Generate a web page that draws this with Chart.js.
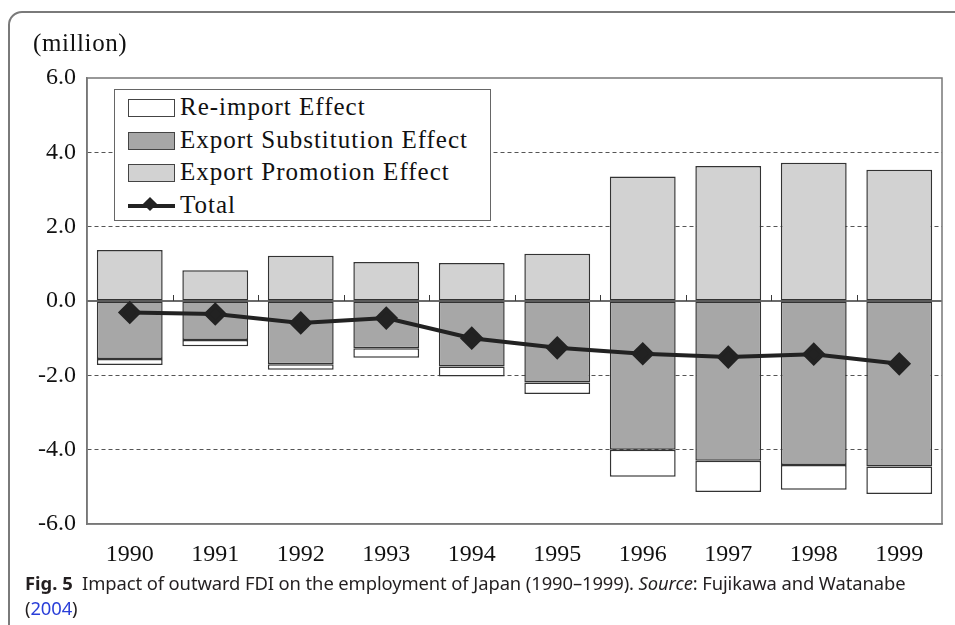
<!DOCTYPE html>
<html>
<head>
<meta charset="utf-8">
<script src="https://cdn.jsdelivr.net/npm/chart.js@4.4.1/dist/chart.umd.min.js"></script>
<style>
  html, body { margin:0; padding:0; background:#fff; }
  #wrap { position:relative; width:955px; height:625px; overflow:hidden; }
  #frame { position:absolute; left:8px; top:11px; width:1000px; height:700px;
           border:2px solid #7a7a7a; border-radius:14px; box-sizing:border-box; }
  #chart { position:absolute; left:0; top:0; }
  #unit { position:absolute; left:33px; top:29px; font:25px "Liberation Serif", serif; color:#111; letter-spacing:0.6px; }
  #legend { position:absolute; left:114px; top:89px; width:377px; height:132px;
            border:1.5px solid #666; background:#fff; box-sizing:border-box; }
  .row { position:absolute; left:0; height:30px; width:100%; }
  .sw { position:absolute; left:13px; top:6px; width:47px; height:18px; box-sizing:border-box; border:1.5px solid #444; }
  .ln { position:absolute; left:13px; top:13px; width:47px; height:4px; background:#222; }
  .dm { position:absolute; left:30px; top:8px; width:10px; height:10px; background:#222; transform:rotate(45deg); }
  .lt { position:absolute; left:65px; top:0; line-height:30px; font:25px "Liberation Serif", serif; color:#111;
        white-space:nowrap; letter-spacing:1px; }
  .cap { position:absolute; left:25px; font:18.4px "Noto Sans", sans-serif; color:#231f20; white-space:nowrap; letter-spacing:-0.1px; }
  .cap b { font-weight:700; letter-spacing:0; }
  .cap a { color:#2a3fd8; text-decoration:none; }
</style>
</head>
<body>
<div id="wrap">
  <div id="frame"></div>
  <canvas id="chart" width="955" height="625"></canvas>
  <div id="unit">(million)</div>
  <div id="legend"></div>
  <div class="cap" style="top:570px"><b>Fig. 5</b>&nbsp; Impact of outward FDI on the employment of Japan (1990–1999). <i>Source</i>: Fujikawa and Watanabe</div>
  <div class="cap" style="top:595px">(<a>2004</a>)</div>
</div>
<script>
// ----- Data -----
var years = ['1990','1991','1992','1993','1994','1995','1996','1997','1998','1999'];
var promotion    = [1.37, 0.83, 1.22, 1.05, 1.02, 1.27, 3.35, 3.63, 3.72, 3.53];
var substitution = [-1.56, -1.05, -1.70, -1.27, -1.76, -2.19, -4.00, -4.30, -4.41, -4.45];
var reimport     = [-0.16, -0.17, -0.15, -0.26, -0.27, -0.31, -0.73, -0.84, -0.67, -0.74];
var total        = [-0.31, -0.35, -0.59, -0.46, -1.00, -1.26, -1.42, -1.51, -1.43, -1.69];
var yTicks = [-6, -4, -2, 0, 2, 4, 6];

// zero line, small category ticks on it, and the plot frame
var framePlugin = {
  id: 'frame',
  beforeDatasetsDraw(chart) {
    const {ctx, chartArea: a, scales: {x, y}} = chart;
    const y0 = y.getPixelForValue(0);
    ctx.save();
    ctx.strokeStyle = '#3a3a3a';
    ctx.lineWidth = 1.5;
    ctx.beginPath(); ctx.moveTo(a.left, y0); ctx.lineTo(a.right, y0); ctx.stroke();
    ctx.lineWidth = 1;
    for (let i = 1; i < years.length; i++) {
      const px = Math.round((x.getPixelForValue(i - 1) + x.getPixelForValue(i)) / 2) + 0.5;
      ctx.beginPath(); ctx.moveTo(px, y0); ctx.lineTo(px, y0 - 6); ctx.stroke();
    }
    ctx.restore();
  },
  afterDraw(chart) {
    const {ctx, chartArea: a} = chart;
    ctx.save();
    ctx.strokeStyle = '#777';
    ctx.lineWidth = 1.5;
    ctx.strokeRect(a.left, a.top, a.right - a.left, a.bottom - a.top);
    ctx.restore();
  }
};

var barStyle = { borderColor:'#333', borderWidth:1.5, borderSkipped:false,
                 barPercentage:0.77, categoryPercentage:1, stack:'bars', order:1 };

var chart = new Chart(document.getElementById('chart'), {
  type: 'bar',
  data: {
    labels: years,
    datasets: [
      Object.assign({ label:'Export Substitution Effect', data:substitution, backgroundColor:'#a7a7a7' }, barStyle),
      Object.assign({ label:'Re-import Effect', data:reimport, backgroundColor:'#ffffff' }, barStyle),
      Object.assign({ label:'Export Promotion Effect', data:promotion, backgroundColor:'#d2d2d2' }, barStyle),
      { type:'line', label:'Total', data:total, stack:'line', order:0,
        borderColor:'#222', borderWidth:4, backgroundColor:'#222',
        pointStyle:'rectRot', pointRadius:9, pointHoverRadius:9,
        pointBackgroundColor:'#222', pointBorderColor:'#222', tension:0 }
    ]
  },
  options: {
    responsive: false,
    animation: false,
    layout: { padding: { left:0, top:78, right:10, bottom:56 } },
    plugins: { legend:{ display:false }, tooltip:{ enabled:false } },
    scales: {
      x: {
        stacked: true,
        grid: { display:false },
        border: { color:'#777', width:1.5 },
        ticks: { color:'#111', padding:8, font:{ family:'"Liberation Serif", serif', size:24 } },
        afterFit(s) { s.height = 45; }
      },
      y: {
        stacked: true,
        min: -6, max: 6,
        afterBuildTicks(s) { s.ticks = yTicks.map(v => ({ value:v })); },
        grid: {
          drawTicks: false,
          lineWidth: 1,
          color: c => (c.tick && Math.abs(c.tick.value) !== 0 && Math.abs(c.tick.value) !== 6) ? '#555' : 'rgba(0,0,0,0)'
        },
        border: { color:'#777', width:1.5, dash:[4,3] },
        ticks: { color:'#111', padding:11, font:{ family:'"Liberation Serif", serif', size:24 },
                 callback: v => (v < 0 ? '-' : '') + Math.abs(v).toFixed(1) },
        afterFit(s) { s.width = 87; }
      }
    }
  },
  plugins: [framePlugin]
});

// ----- Legend (HTML) -----
var legendOrder = [1, 0, 2, 3];
var lg = document.getElementById('legend');
legendOrder.forEach(function(di, k) {
  var ds = chart.data.datasets[di];
  var row = document.createElement('div');
  row.className = 'row';
  row.style.top = (3 + k * 32.5) + 'px';
  if (ds.type === 'line') {
    row.innerHTML = '<div class="ln"></div><div class="dm"></div>';
  } else {
    row.innerHTML = '<div class="sw" style="background:' + ds.backgroundColor + '"></div>';
  }
  var t = document.createElement('div');
  t.className = 'lt';
  t.textContent = ds.label;
  row.appendChild(t);
  lg.appendChild(row);
});
</script>
</body>
</html>
